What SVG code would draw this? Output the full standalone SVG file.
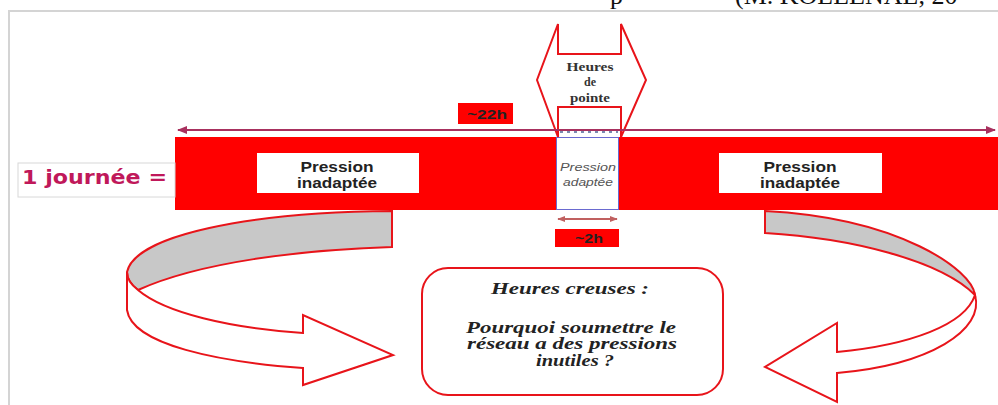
<svg xmlns="http://www.w3.org/2000/svg" width="998" height="405" viewBox="0 0 998 405">
<style>
.lbl{font-family:"Liberation Sans",Arial,sans-serif;font-weight:bold;fill:#222;text-anchor:middle}
.ser{font-family:"Liberation Serif","Times New Roman",serif;font-weight:bold;fill:#333;text-anchor:middle}
.q{font-family:"Liberation Serif","Times New Roman",serif;font-weight:bold;font-style:italic;font-size:16px;fill:#222;text-anchor:middle}
.ital{font-family:"Liberation Sans",Arial,sans-serif;font-style:italic;font-size:11px;fill:#555;text-anchor:middle}
.arr{fill:#fff;stroke:#e8141a;stroke-width:2;stroke-linejoin:miter}
.band{fill:#c8c8c8;stroke:#e8141a;stroke-width:2}
</style>
<defs>
<marker id="ah" viewBox="0 0 10 10" refX="9" refY="5" markerWidth="5" markerHeight="5" orient="auto-start-reverse">
<path d="M0,1 L10,5 L0,9 Z" fill="#a8305e"/>
</marker>
<marker id="ah2" viewBox="0 0 10 10" refX="9" refY="5" markerWidth="4" markerHeight="4" orient="auto-start-reverse">
<path d="M0,1 L10,5 L0,9 Z" fill="#c06060"/>
</marker>
</defs>
<rect width="998" height="405" fill="#fff"/>
<g id="header">
<text x="610" y="4" font-family="Liberation Serif,serif" font-size="26" fill="#111">p</text>
<text x="735" y="4" font-family="Liberation Serif,serif" font-size="26" fill="#111">(M. KOLLENAL, 20</text>
<path d="M9,405 L9,11 L998,11" fill="none" stroke="#d4d4d4" stroke-width="2"/>
</g>
<g id="bar">
<rect x="175" y="137" width="823" height="73" fill="#ff0000"/>
</g>
<g id="journee">
<rect x="18" y="163" width="157" height="34" fill="#fff" stroke="#d8d8d8" stroke-width="1"/>
<text x="22" y="184" font-family="Verdana,'DejaVu Sans',sans-serif" font-weight="bold" font-size="20" fill="#c0185a" textLength="145" lengthAdjust="spacingAndGlyphs">1 journée =</text>
</g>
<g id="inadaptee-left">
<rect x="257" y="153" width="162" height="40" fill="#fff"/>
<text class="lbl" x="337" y="172" font-size="15" textLength="73" lengthAdjust="spacingAndGlyphs">Pression</text>
<text class="lbl" x="337" y="188" font-size="15" textLength="80" lengthAdjust="spacingAndGlyphs">inadaptée</text>
</g>
<g id="inadaptee-right">
<rect x="719" y="153" width="163" height="40" fill="#fff"/>
<text class="lbl" x="800" y="172" font-size="15" textLength="73" lengthAdjust="spacingAndGlyphs">Pression</text>
<text class="lbl" x="800" y="188" font-size="15" textLength="80" lengthAdjust="spacingAndGlyphs">inadaptée</text>
</g>
<g id="adaptee">
<rect x="556.5" y="137.5" width="62" height="72" fill="#fff" stroke="#6a6ad0" stroke-width="1"/>
<text class="ital" x="588" y="171" textLength="56" lengthAdjust="spacingAndGlyphs">Pression</text>
<text class="ital" x="588" y="186" textLength="50" lengthAdjust="spacingAndGlyphs">adaptée</text>
</g>
<g id="pointe">
<path class="arr" d="M558,24 L558,54 L621,54 L621,24 L646,80 L621,137 L621,107 L558,107 L558,137 L537,80 Z"/>
<text class="ser" x="590" y="71" font-size="12" textLength="47" lengthAdjust="spacingAndGlyphs">Heures</text>
<text class="ser" x="590" y="86" font-size="12">de</text>
<text class="ser" x="590" y="102" font-size="12" textLength="40" lengthAdjust="spacingAndGlyphs">pointe</text>
</g>
<g id="label-22h">
<rect x="458" y="103" width="55" height="21" fill="#ff0000"/>
<text class="lbl" x="487" y="119" font-size="13" textLength="40" lengthAdjust="spacingAndGlyphs">~22h</text>
</g>
<g id="label-2h">
<rect x="555" y="229" width="64" height="18" fill="#ff0000"/>
<text class="lbl" x="589" y="243" font-size="13" textLength="28" lengthAdjust="spacingAndGlyphs">~2h</text>
</g>
<g id="creuses">
<rect x="422" y="268" width="301" height="127" rx="26" ry="26" fill="#fff" stroke="#e8141a" stroke-width="2"/>
<text class="q" x="570" y="294" textLength="158" lengthAdjust="spacingAndGlyphs">Heures creuses :</text>
<text class="q" x="571" y="333" textLength="210" lengthAdjust="spacingAndGlyphs">Pourquoi soumettre le</text>
<text class="q" x="572" y="349" textLength="210" lengthAdjust="spacingAndGlyphs">réseau a des pressions</text>
<text class="q" x="575" y="366" textLength="78" lengthAdjust="spacingAndGlyphs">inutiles ?</text>
</g>
<g id="arrow-left">
<path class="band" d="M392,211 L392,247 C 300,250 200,262 138,290 C 130,284 127,278 127,272 C 135,235 250,212 392,211 Z"/>
<path class="arr" d="M127,272 L127,310 C 132,345 220,362 303,368 L303,385 L393,355 L303,315 L303,333 C 230,328 165,313 138,290 C 130,284 127,278 127,272 Z"/>
</g>
<g id="arrow-right">
<path class="band" d="M765,211 L765,233 C 850,238 940,260 975,295 C 972,270 900,218 765,211 Z"/>
<path class="arr" d="M975,295 C 985,330 930,365 837,373 L837,402 L765,367 L837,323 L837,352 C 910,345 965,325 975,295 Z"/>
</g>
<g id="connectors">
<line x1="178" y1="130" x2="995" y2="130" stroke="#a8305e" stroke-width="2" marker-start="url(#ah)" marker-end="url(#ah)"/>
<line x1="560" y1="132" x2="618" y2="132" stroke="#7a8ab0" stroke-width="2" stroke-dasharray="3,4"/>
<line x1="558" y1="219" x2="617" y2="219" stroke="#c06060" stroke-width="2" marker-start="url(#ah2)" marker-end="url(#ah2)"/>
</g>
</svg>
